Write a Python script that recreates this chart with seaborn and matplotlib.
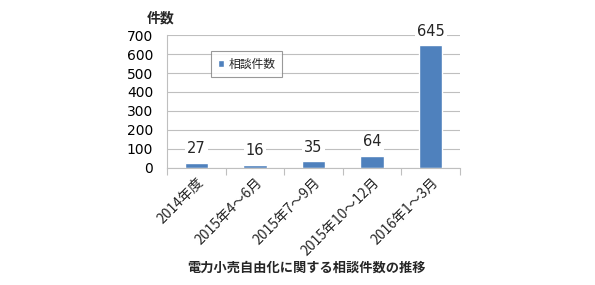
import matplotlib
matplotlib.use("Agg")
import matplotlib.pyplot as plt
import seaborn as sns
import pandas as pd
import numpy as np

categories = ["2014年度", "2015年4～6月", "2015年7～9月", "2015年10～12月", "2016年1～3月"]
values = [27, 16, 35, 64, 645]
series_name = "相談件数"
title = "電力小売自由化に関する相談件数の推移"
y_label = "件数"

sns.set_theme(style="white")
plt.rcParams['font.family'] = ['DejaVu Sans', 'Noto Sans CJK JP']
cjk = ['Noto Sans CJK JP', 'DejaVu Sans']

df = pd.DataFrame({"cat": categories, "val": values, "series": series_name})

fig = plt.figure(figsize=(5.95, 2.85), dpi=100)
ax = fig.add_axes([0.281, 0.411, 0.492, 0.466])
sns.barplot(data=df, x="cat", y="val", hue="series", palette=["#4F81BD"],
            width=0.4, ax=ax, saturation=1)

ax.set_ylim(0, 700)
ax.set_yticks(range(0, 701, 100))
ax.set_xlim(-0.5, len(categories) - 0.5)
ax.yaxis.grid(True, color="#BFBFBF", linewidth=0.8)
ax.set_axisbelow(True)
for s in ["top", "right"]:
    ax.spines[s].set_visible(False)
for s in ["left", "bottom"]:
    ax.spines[s].set_color("#BFBFBF")
    ax.spines[s].set_linewidth(0.8)
ax.set_xlabel("")
ax.set_ylabel("")
ax.tick_params(axis="y", labelsize=10, length=0, pad=10, colors="black")
ax.set_xticks(np.arange(len(categories)))
ax.set_xticklabels(categories, rotation=45, ha="right", rotation_mode="anchor",
                   fontsize=10, family=cjk)
ax.tick_params(axis="x", length=0, pad=5)
ax.set_xticks(np.arange(-0.5, len(categories), 1), minor=True)
ax.tick_params(axis="x", which="minor", length=5, color="#BFBFBF", width=0.8, direction="out", bottom=True)

for i, v in enumerate(values):
    ax.annotate(str(v), (i, v), xytext=(0, 14), textcoords="offset pixels",
                ha="center", va="center", fontsize=10.5,
                bbox=dict(boxstyle="square,pad=0.15", fc="white", ec="none"), annotation_clip=False)

leg = ax.legend(loc="upper left", bbox_to_anchor=(0.15, 0.88), frameon=True,
                prop={'family': cjk, 'size': 8.5}, borderaxespad=0,
                fancybox=False, edgecolor="#808080", handlelength=0.55, handleheight=0.55,
                handletextpad=0.4, borderpad=0.55)
leg.get_frame().set_linewidth(0.8)

fig.text(147/595, 1 - 18/285, y_label, fontsize=10, fontweight="bold", va="center", ha="left", family=cjk)
fig.text(0.515, 1 - 268/285, title, fontsize=9.5, fontweight="bold", ha="center", va="center", family=cjk)

fig.savefig("out.png", dpi=100)
